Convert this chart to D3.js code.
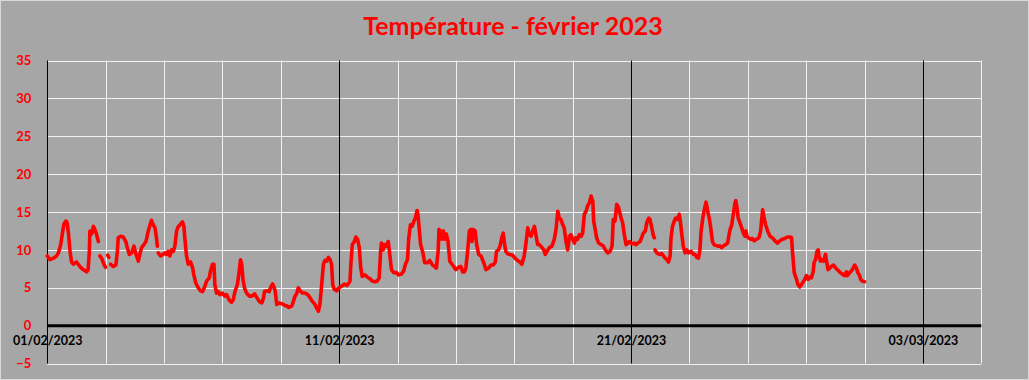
<!DOCTYPE html>
<html><head><meta charset="utf-8">
<script src="https://cdn.jsdelivr.net/npm/d3@7"></script>
<style>html,body{margin:0;padding:0;background:#a6a6a6;} svg{display:block}</style>
</head><body>
<svg id="chart" width="1029" height="380"></svg>
<script>
const chartTitle = "Température - février 2023";
const xLabels = ["01/02/2023", "11/02/2023", "21/02/2023", "03/03/2023"];
const xLabelDays = [0, 10, 20, 30];
const yTicks = [-5, 0, 5, 10, 15, 20, 25, 30, 35];

// time in days since 01/02/2023 00:00
const days = [
  0.00,0.09,0.21,0.32,0.38,0.46,0.53,0.57,0.64,0.68,0.73,0.78,0.83,0.89,1.00,1.06,1.14,1.23,1.35,1.40,1.44,1.46,1.52,1.58,1.63,1.69,1.75,
  1.77,1.80,1.86,1.94,2.00,2.03,2.07,2.11,2.14,
  2.17,2.26,2.35,2.40,2.43,2.51,2.60,2.69,2.74,2.81,2.89,2.97,3.04,3.12,3.17,3.23,3.31,3.38,3.46,3.52,3.57,3.63,3.69,3.74,3.77,3.785,
  3.80,3.88,3.97,4.03,4.09,4.14,4.20,4.26,4.32,4.37,4.43,4.49,4.54,4.63,4.68,4.71,4.77,4.83,4.91,4.98,
  5.02,5.09,5.17,5.25,5.32,5.40,5.46,5.55,5.59,5.66,5.71,5.74,5.80,5.86,5.91,6.00,6.08,6.14,6.23,6.31,6.37,6.43,6.51,6.56,6.62,6.66,6.71,6.77,6.83,6.92,
  7.01,7.10,7.18,7.26,7.35,7.41,7.44,7.52,7.60,7.67,7.72,7.76,7.81,7.86,7.94,
  8.03,8.13,8.21,8.28,8.38,8.43,8.49,8.55,8.60,8.66,8.74,8.83,8.92,9.00,9.08,9.17,9.23,9.29,9.34,9.40,9.46,9.51,9.57,9.63,9.69,9.74,9.78,9.83,9.91,
  10.00,10.08,10.18,10.26,10.33,10.37,10.40,10.45,10.52,10.57,10.63,10.69,10.74,10.79,10.88,10.97,11.05,11.13,11.22,11.31,11.37,11.42,11.45,11.51,11.56,11.62,11.68,11.74,11.79,11.87,11.96,
  12.04,12.13,12.21,12.27,12.34,12.38,12.44,12.50,12.56,12.61,12.67,12.70,12.74,12.79,12.87,12.93,13.02,13.10,13.18,13.27,13.33,13.39,13.42,13.48,13.52,13.57,13.62,13.67,13.73,13.79,13.87,13.96,
  14.00,14.09,14.17,14.23,14.29,14.34,14.40,14.46,14.51,14.55,14.59,14.66,14.71,14.78,14.86,14.91,14.97,
  15.03,15.12,15.20,15.28,15.35,15.39,15.46,15.51,15.57,15.62,15.67,15.71,15.77,15.85,15.94,
  16.03,16.11,16.19,16.26,16.34,16.40,16.46,16.51,16.57,16.63,16.69,16.74,16.80,16.86,16.95,
  17.01,17.06,17.12,17.20,17.29,17.37,17.43,17.49,17.54,17.60,17.66,17.71,17.77,17.83,17.89,17.94,
  18.00,18.06,18.11,18.17,18.23,18.29,18.34,18.40,18.46,18.51,18.57,18.63,18.69,18.72,18.78,18.82,18.89,18.97,
  19.05,19.12,19.20,19.28,19.35,19.39,19.45,19.51,19.57,19.60,19.66,19.71,19.77,19.83,19.89,19.94,
  20.00,20.06,20.11,20.17,20.23,20.31,20.38,20.42,20.49,20.54,20.61,20.65,20.71,20.77,20.80,20.81,20.82,20.88,20.97,
  21.05,21.11,21.17,21.23,21.28,21.34,21.37,21.42,21.48,21.53,21.59,21.65,21.69,21.74,21.79,21.85,21.91,21.97,
  22.06,22.14,22.19,22.25,22.31,22.36,22.40,22.46,22.51,22.57,22.62,22.65,22.68,22.73,22.79,22.84,22.90,22.97,
  23.05,23.10,23.16,23.24,23.31,23.38,23.45,23.50,23.56,23.59,23.63,23.67,23.73,23.79,23.85,23.90,23.94,23.97,
  24.02,24.10,24.16,24.22,24.30,24.38,24.44,24.47,24.51,24.55,24.61,24.68,24.76,24.84,24.93,
  25.02,25.10,25.18,25.27,25.36,25.44,25.50,25.53,25.59,25.67,25.72,25.78,25.84,25.90,25.95,
  26.01,26.07,26.12,26.18,26.24,26.27,26.32,26.37,26.41,26.44,26.49,26.54,26.60,26.66,26.70,26.75,26.81,26.86,26.94,
  27.01,27.09,27.17,27.24,27.32,27.38,27.41,27.49,27.57,27.66,27.72,27.77,27.83,27.87,27.92,28.00
];

// temperature (°C); null = missing reading
const temps = [
  9.2,8.7,8.9,9.2,9.6,10.7,12.5,13.4,13.8,13.6,12.0,9.8,8.4,8.1,8.4,8.1,7.7,7.4,7.1,7.4,9.8,12.5,12.1,13.1,12.7,12.0,11.1,
  null,9.2,8.9,8.1,7.7,null,9.3,9.0,null,
  8.1,7.8,8.0,9.8,11.6,11.8,11.7,11.1,10.3,9.4,9.6,10.5,9.4,8.5,9.4,10.3,10.7,11.1,12.5,13.3,13.9,13.3,12.9,11.6,10.5,null,
  9.6,9.2,9.4,9.6,9.4,9.8,9.2,10.0,9.8,10.5,12.5,13.1,13.3,13.7,13.1,11.6,9.2,8.1,8.4,7.6,
  6.7,5.6,5.0,4.6,4.5,5.2,5.9,6.3,7.2,8.1,8.1,5.4,4.3,4.5,4.1,4.3,3.9,4.1,3.4,3.1,3.4,4.5,5.4,6.7,8.7,8.1,5.9,4.8,4.3,3.9,
  3.9,4.2,3.7,3.2,3.0,3.7,4.5,4.6,4.5,5.2,5.5,5.2,4.5,2.8,3.0,
  2.9,2.7,2.6,2.4,2.6,3.2,3.9,4.3,5.0,4.6,4.3,4.3,4.1,3.7,3.2,2.8,2.3,1.9,2.8,5.4,8.1,8.6,8.5,9.0,8.7,8.1,5.4,4.8,4.6,
  5.0,5.2,5.5,5.3,5.6,5.9,8.1,10.7,11.1,11.7,11.4,10.3,7.6,6.5,6.7,6.4,6.2,5.9,5.8,5.9,6.3,9.8,10.9,10.0,10.7,10.5,11.1,9.2,7.4,7.0,7.0,
  6.7,6.8,7.2,8.1,8.7,11.4,13.3,13.1,13.8,14.2,15.2,14.6,12.9,10.7,9.6,8.3,8.3,8.6,8.1,7.8,7.6,9.8,12.7,12.3,11.4,12.5,11.4,12.1,11.1,8.5,8.1,7.6,
  7.4,7.7,7.8,7.1,7.1,7.6,9.8,12.5,12.7,11.1,12.7,12.5,10.7,9.4,9.2,8.7,8.1,
  7.4,7.6,8.0,8.0,8.4,9.8,10.0,10.5,11.6,12.2,10.7,9.8,9.5,9.4,9.3,
  8.9,8.6,8.4,8.1,9.2,10.9,12.9,12.0,11.8,12.5,13.1,12.0,10.7,10.7,10.3,
  10.0,9.4,9.8,10.3,10.5,11.4,12.7,15.1,14.2,14.0,13.3,12.9,11.1,10.0,11.8,12.0,
  11.4,10.9,11.6,11.4,12.0,11.8,12.2,14.7,15.1,15.8,16.2,17.1,16.4,13.8,12.5,11.6,10.9,10.7,
  10.5,10.0,9.6,9.8,10.5,14.0,13.8,16.0,15.6,15.1,14.2,13.6,12.0,10.7,10.9,11.1,
  10.9,10.8,10.9,10.7,10.9,11.1,11.8,12.2,12.5,13.6,14.2,14.0,12.9,11.8,11.6,null,10.0,9.6,9.4,
  9.5,9.2,8.9,8.7,8.4,9.2,11.6,13.1,13.8,14.2,14.0,14.7,13.8,12.0,10.5,9.6,10.0,9.6,
  9.8,9.4,9.4,9.0,8.9,10.0,12.5,14.2,15.3,16.3,15.3,14.6,14.2,12.9,11.1,10.7,10.6,10.5,
  10.5,10.3,10.5,10.7,10.9,12.5,13.3,14.6,16.2,16.5,15.6,14.2,13.6,12.9,12.2,11.8,12.5,11.8,
  11.6,11.4,11.5,11.2,11.4,11.6,12.5,13.8,15.3,14.4,13.3,12.5,11.8,11.6,11.2,
  10.9,11.2,11.4,11.5,11.7,11.7,11.6,9.8,7.0,6.1,5.4,5.1,5.4,5.8,6.1,
  6.6,6.1,6.4,6.3,7.1,8.3,8.7,9.8,10.0,9.2,8.5,8.7,8.5,9.4,8.5,7.4,7.6,7.8,8.0,
  7.6,7.3,7.0,6.8,6.6,7.1,6.6,7.0,7.3,8.0,7.6,7.0,6.6,6.1,5.9,5.8
];

const W = 1029, H = 380;
const svg = d3.select("#chart");
const x = d3.scaleLinear().domain([0, 32]).range([47.3, 981.3]);
const y = d3.scaleLinear().domain([-5, 35]).range([363.5, 60.5]);
const px = v => Math.round(v) + 0.5;

svg.append("rect").attr("x", 0.5).attr("y", 0.5).attr("width", W - 1).attr("height", H - 1)
  .attr("fill", "#a6a6a6").attr("stroke", "#d9d9d9").attr("stroke-width", 1);

svg.append("text").attr("x", 513).attr("y", 35).attr("text-anchor", "middle")
  .attr("font-family", "Lato, 'Open Sans', sans-serif").attr("font-weight", "bold")
  .attr("font-size", 25).attr("fill", "#ff0000").text(chartTitle);

const grid = svg.append("g");
grid.selectAll("line.h").data(yTicks.filter(v => v !== 0)).join("line")
  .attr("x1", x(0)).attr("x2", x(32))
  .attr("y1", d => px(y(d))).attr("y2", d => px(y(d)))
  .attr("stroke", "#f2f2f2").attr("stroke-width", 1);
const vDays = d3.range(0, 33, 2);
grid.selectAll("line.v").data(vDays).join("line")
  .attr("x1", d => px(x(d))).attr("x2", d => px(x(d)))
  .attr("y1", y(35)).attr("y2", y(-5))
  .attr("stroke", d => (d % 10 === 0 && d <= 30) ? "#000" : "#f2f2f2")
  .attr("stroke-width", 1);

svg.append("line").attr("x1", x(0)).attr("x2", x(32)).attr("y1", y(0)).attr("y2", y(0))
  .attr("stroke", "#000").attr("stroke-width", 3);

const yAxis = d3.axisLeft(y).tickValues(yTicks).tickSize(0).tickPadding(16);
const gy = svg.append("g").attr("transform", `translate(${x(0)},0)`).call(yAxis);
gy.select(".domain").remove();
gy.selectAll("text").attr("fill", "#ff0000").attr("font-family", "Lato, sans-serif")
  .attr("font-weight", "bold").attr("font-size", 13);

const xAxis = d3.axisBottom(x).tickValues(xLabelDays).tickSize(0).tickPadding(10)
  .tickFormat((d, i) => xLabels[i]);
const gx = svg.append("g").attr("transform", `translate(0,${y(0)})`).call(xAxis);
gx.select(".domain").remove();
gx.selectAll("text").attr("fill", "#000").attr("font-family", "Lato, sans-serif")
  .attr("font-weight", "bold").attr("font-size", 12.5);

const pts = days.map((d, i) => ({ d, t: temps[i] }));
const line = d3.line().defined(p => p.t !== null).x(p => x(p.d)).y(p => y(p.t));
svg.append("path").datum(pts).attr("d", line).attr("fill", "none")
  .attr("stroke", "#ff0000").attr("stroke-width", 3.6)
  .attr("stroke-linejoin", "round").attr("stroke-linecap", "round");
</script>
</body></html>
